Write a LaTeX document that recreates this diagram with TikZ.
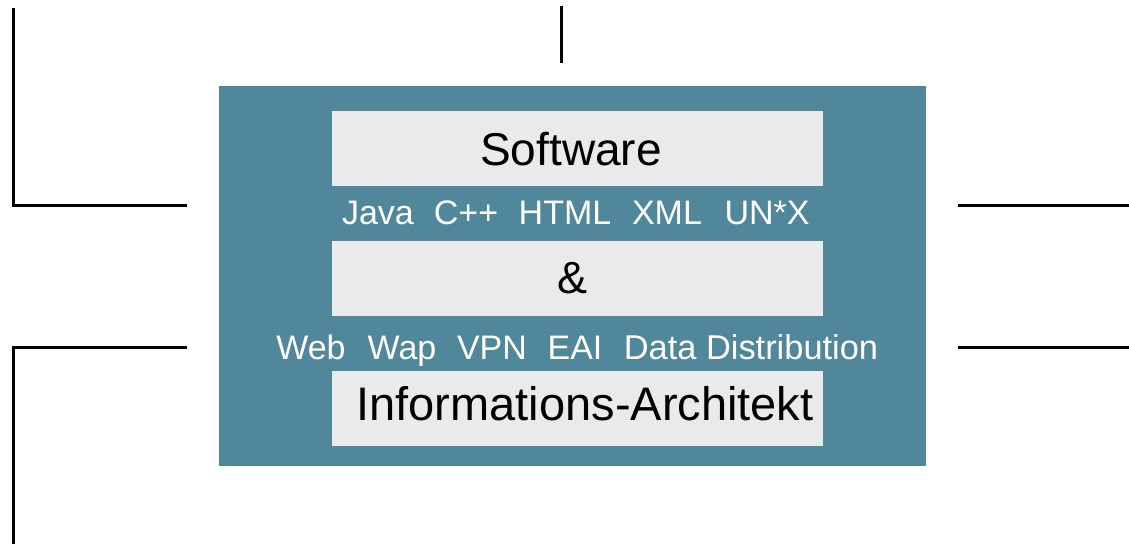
\documentclass[tikz,border=0pt]{standalone}
\usepackage{fontspec}
\setmainfont{Liberation Sans}
\definecolor{panelblue}{RGB}{80,135,155}
\definecolor{bargray}{RGB}{234,234,234}
\begin{document}
\begin{tikzpicture}[x=1pt,y=-1pt,
  wire/.style={line width=3pt,black},
  bar/.style={fill=bargray,draw=none},
  title/.style={anchor=base,inner sep=0pt,text=black,font=\fontsize{46}{50}\selectfont},
  tag/.style={anchor=base,inner sep=0pt,text=white,font=\fontsize{34}{40}\selectfont}]
\useasboundingbox (0,0) rectangle (1129,544);
\fill[white] (0,0) rectangle (1129,544);

% panel and the three bars
\fill[panelblue] (219,86) rectangle (926,466);
\fill[bar] (332,111) rectangle (823,186);
\fill[bar] (332,241) rectangle (823,316);
\fill[bar] (332,371) rectangle (823,446);

% bar titles
\node[title] (sw) at (571,165) {Software};
\node[title,font=\fontsize{45}{50}\selectfont] (amp) at (572,293) {\&};
\node[title,font=\fontsize{47}{52}\selectfont] (ia) at (585,420) {Informations-Architekt};

% technology tags
\node[tag] (java) at (378,224) {Java};
\node[tag] (cpp)  at (466,224) {C++};
\node[tag] (html) at (565,224) {HTML};
\node[tag] (xml)  at (667,224) {XML};
\node[tag] (unx)  at (767,224) {UN*X};

\node[tag] (web)  at (311,359) {Web};
\node[tag] (wap)  at (402,359) {Wap};
\node[tag] (vpn)  at (492,359) {VPN};
\node[tag] (eai)  at (575,359) {EAI};
\node[tag,font=\fontsize{34.4}{40}\selectfont] (dd) at (751,359) {Data Distribution};

% connector end points
\coordinate (tlA) at (13,8);
\coordinate (tlB) at (13,205);
\coordinate (tlC) at (187,205);
\coordinate (blA) at (187,347);
\coordinate (blB) at (13,347);
\coordinate (blC) at (13,544);
\coordinate (trA) at (958,205);
\coordinate (trB) at (1129,205);
\coordinate (brA) at (958,347);
\coordinate (brB) at (1129,347);
\coordinate (tA) at (561,6);
\coordinate (tB) at (561,63);

\draw[wire] (tlA) -- (tlB) -- (tlC);
\draw[wire] (blA) -- (blB) -- (blC);
\draw[wire] (trA) -- (trB);
\draw[wire] (brA) -- (brB);
\draw[wire] (tA) -- (tB);
\end{tikzpicture}
\end{document}
